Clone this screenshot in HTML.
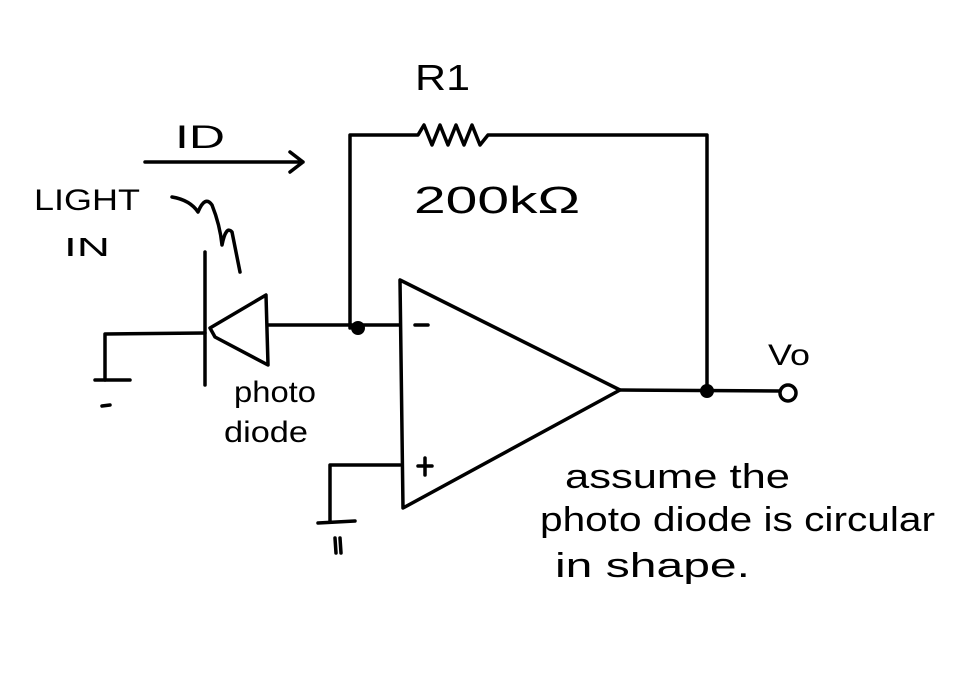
<!DOCTYPE html>
<html><head><meta charset="utf-8"><style>
html,body{margin:0;padding:0;background:#fff;width:975px;height:682px;overflow:hidden}
svg{display:block}
text{font-family:"Liberation Sans",sans-serif;fill:#000}
</style></head><body>
<svg width="975" height="682" viewBox="0 0 975 682" xmlns="http://www.w3.org/2000/svg">
<g stroke="#000" stroke-width="3.5" fill="none" stroke-linecap="round" stroke-linejoin="round">
<path d="M145 162 L303 162 M290 152 L303 162 L290 172"/>
<path d="M172 197 Q190 200 198 212 Q205 195 212 205 Q220 225 222 245 Q226 225 232 232 L240 272"/>
<path d="M105 380 L105 334 L205 333"/>
<path d="M95 380 L130 380"/>
<path d="M102 406 L110 405"/>
<path d="M205 252 L205 385"/>
<path d="M210 328 L266 295 L268 365 L215 337 Z"/>
<path d="M268 325 L400 325"/>
<path d="M350 328 L350 135 L418 135 L424 125 L432 145 L440 125 L448 145 L456 125 L464 145 L472 125 L480 145 L488 135 L707 135 L707 392"/>
<path d="M400 280 L403 508 L620 390 Z"/>
<path d="M415 325 L428 325"/>
<path d="M425 458 L425 475 M418 466 L432 466"/>
<path d="M620 390 L780 391"/>
<circle cx="788" cy="393" r="8"/>
<path d="M400 465 L330 465 L330 522"/>
<path d="M318 523 L355 521"/>
<path d="M335 538 L336 553 M340 538 L341 553"/>
</g>
<circle cx="358" cy="328" r="7" fill="#000"/>
<circle cx="707" cy="391" r="7" fill="#000"/>
<text x="415" y="90" font-size="36" textLength="55" lengthAdjust="spacingAndGlyphs">R1</text>
<text x="175" y="148" font-size="32" textLength="50" lengthAdjust="spacingAndGlyphs">ID</text>
<text x="34" y="210" font-size="30" textLength="106" lengthAdjust="spacingAndGlyphs">LIGHT</text>
<text x="64" y="256" font-size="26" textLength="46" lengthAdjust="spacingAndGlyphs">IN</text>
<text x="414" y="213" font-size="38" textLength="166" lengthAdjust="spacingAndGlyphs">200kΩ</text>
<text x="768" y="365" font-size="30" textLength="42" lengthAdjust="spacingAndGlyphs">Vo</text>
<text x="234" y="402" font-size="30" textLength="82" lengthAdjust="spacingAndGlyphs">photo</text>
<text x="224" y="442" font-size="30" textLength="84" lengthAdjust="spacingAndGlyphs">diode</text>
<text x="565" y="488" font-size="34" textLength="225" lengthAdjust="spacingAndGlyphs">assume the</text>
<text x="540" y="531" font-size="34" textLength="395" lengthAdjust="spacingAndGlyphs">photo diode is circular</text>
<text x="555" y="577" font-size="34" textLength="195" lengthAdjust="spacingAndGlyphs">in shape.</text>
</svg>
</body></html>
